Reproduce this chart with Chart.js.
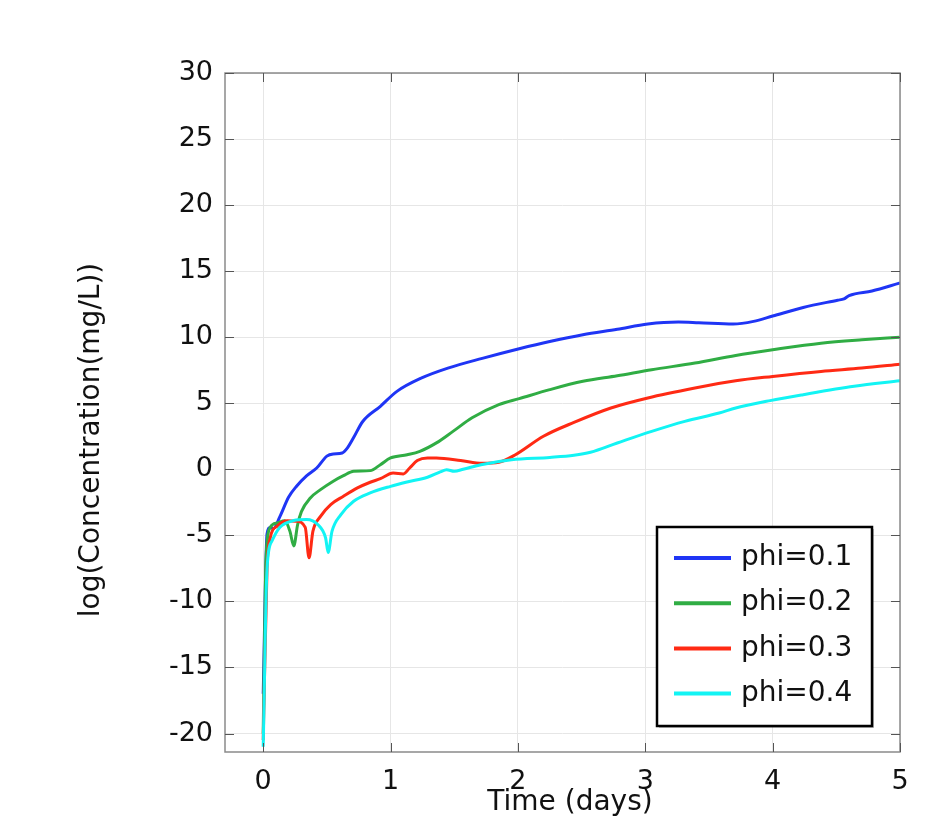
<!DOCTYPE html>
<html>
<head>
<meta charset="utf-8">
<script src="https://cdn.jsdelivr.net/npm/chart.js@4/dist/chart.umd.min.js"></script>
<style>
  body { margin: 0; background: #fff; }
  #wrap { width: 934px; height: 819px; }
</style>
</head>
<body>
<div id="wrap"><canvas id="concChart" width="934" height="819"></canvas></div>
<script>
// Series values (time in days, log concentration)
const seriesLabels = ["phi=0.1", "phi=0.2", "phi=0.3", "phi=0.4"];
const seriesColors = ["#1f35f5", "#30ad44", "#ff2a14", "#12f4f4"];

const phi1Days = [0, 0.03, 0.055, 0.08, 0.13, 0.2, 0.26, 0.34, 0.42, 0.5, 0.55, 0.62, 0.66, 0.71, 0.78, 0.92, 1.05, 1.24, 1.45, 1.72, 2.01, 2.25, 2.51, 2.78, 3.02, 3.26, 3.42, 3.69, 3.85, 4.0, 4.24, 4.51, 4.56, 4.6, 4.78, 5.0];
const phi1Log = [-17, -4.9, -4.4, -4.5, -3.6, -2.1, -1.3, -0.5, 0.1, 1.0, 1.16, 1.23, 1.6, 2.4, 3.6, 4.77, 5.9, 6.9, 7.66, 8.4, 9.13, 9.68, 10.19, 10.6, 11.0, 11.15, 11.1, 11.0, 11.2, 11.6, 12.25, 12.8, 12.9, 13.15, 13.5, 14.1];

const phi2Days = [0, 0.02, 0.055, 0.11, 0.17, 0.21, 0.24, 0.27, 0.3, 0.37, 0.45, 0.55, 0.63, 0.71, 0.84, 0.92, 1.0, 1.13, 1.23, 1.36, 1.49, 1.64, 1.85, 2.01, 2.25, 2.51, 2.78, 3.05, 3.39, 3.71, 4.0, 4.38, 4.7, 5.0];
const phi2Log = [-20, -7.2, -4.4, -4.06, -3.9, -4.7, -5.8, -4.2, -3.2, -2.17, -1.54, -0.9, -0.48, -0.15, -0.1, 0.35, 0.86, 1.1, 1.36, 2.0, 2.87, 3.9, 4.9, 5.35, 6.03, 6.66, 7.08, 7.54, 8.04, 8.62, 9.05, 9.55, 9.81, 10.0];

const phi3Days = [0, 0.03, 0.055, 0.11, 0.19, 0.26, 0.33, 0.36, 0.39, 0.45, 0.53, 0.63, 0.74, 0.84, 0.92, 1.02, 1.1, 1.15, 1.21, 1.29, 1.36, 1.55, 1.72, 1.85, 1.98, 2.2, 2.44, 2.73, 3.02, 3.39, 3.71, 4.0, 4.38, 4.7, 5.0];
const phi3Log = [-20.5, -7.5, -5.2, -4.3, -3.9, -3.93, -4.4, -6.7, -4.7, -3.56, -2.67, -2.04, -1.41, -0.98, -0.71, -0.28, -0.35, 0.1, 0.66, 0.86, 0.85, 0.66, 0.45, 0.53, 1.1, 2.5, 3.55, 4.64, 5.4, 6.15, 6.7, 7.03, 7.41, 7.66, 7.95];

const phi4Days = [0, 0.03, 0.07, 0.13, 0.24, 0.34, 0.43, 0.49, 0.51, 0.54, 0.61, 0.71, 0.84, 1.0, 1.13, 1.29, 1.39, 1.44, 1.5, 1.57, 1.71, 1.95, 2.25, 2.44, 2.57, 2.78, 3.05, 3.31, 3.58, 3.71, 3.98, 4.24, 4.64, 5.0];
const phi4Log = [-21, -7.5, -5.4, -4.4, -3.88, -3.8, -4.2, -5.2, -6.3, -4.7, -3.43, -2.42, -1.79, -1.29, -0.96, -0.6, -0.2, -0.03, -0.15, 0.0, 0.35, 0.73, 0.9, 1.06, 1.29, 1.99, 2.87, 3.63, 4.26, 4.64, 5.2, 5.65, 6.28, 6.7];

const xTicks = [0, 1, 2, 3, 4, 5];
const yTicks = [-20, -15, -10, -5, 0, 5, 10, 15, 20, 25, 30];

const allDays = [phi1Days, phi2Days, phi3Days, phi4Days];
const allLog = [phi1Log, phi2Log, phi3Log, phi4Log];

const FONT = "'DejaVu Sans', sans-serif";

// Inner tick marks on all four sides, the frame and the axis titles
const frameTicks = {
  id: "frameTicks",
  afterDatasetsDraw(chart) {
    const { ctx, chartArea: a, scales } = chart;
    ctx.save();
    ctx.strokeStyle = "#8a8a8a";
    ctx.lineWidth = 1.5;
    ctx.strokeRect(a.left, a.top, a.right - a.left, a.bottom - a.top);
    ctx.strokeStyle = "#555";
    ctx.lineWidth = 1;
    ctx.beginPath();
    xTicks.forEach((v) => {
      const px = Math.round(scales.x.getPixelForValue(v)) + 0.5;
      ctx.moveTo(px, a.bottom); ctx.lineTo(px, a.bottom - 9);
      ctx.moveTo(px, a.top); ctx.lineTo(px, a.top + 9);
    });
    yTicks.forEach((v) => {
      const py = Math.round(scales.y.getPixelForValue(v)) + 0.5;
      ctx.moveTo(a.left, py); ctx.lineTo(a.left + 9, py);
      ctx.moveTo(a.right, py); ctx.lineTo(a.right - 9, py);
    });
    ctx.stroke();

    ctx.fillStyle = "#111";
    ctx.font = "28px " + FONT;
    ctx.textAlign = "center";
    ctx.textBaseline = "middle";
    ctx.fillText("Time (days)", 570, 803);
    ctx.translate(92, 440);
    ctx.rotate(-Math.PI / 2);
    ctx.fillText("log(Concentration(mg/L))", 0, 0);
    ctx.restore();
  },
};

// Boxed legend in the lower right of the plot
const boxLegend = {
  id: "boxLegend",
  afterDraw(chart) {
    const { ctx } = chart;
    const bx = 657, by = 527, bw = 215, bh = 199;
    ctx.save();
    ctx.fillStyle = "rgba(0,0,0,0.25)";
    ctx.fillRect(bx + 2, by + 2, bw, bh);
    ctx.fillStyle = "#fff";
    ctx.fillRect(bx, by, bw, bh);
    ctx.strokeStyle = "#000";
    ctx.lineWidth = 2.5;
    ctx.strokeRect(bx, by, bw, bh);
    ctx.font = "28px " + FONT;
    ctx.textBaseline = "middle";
    ctx.fillStyle = "#111";
    seriesLabels.forEach((lab, i) => {
      const y = 558 + i * 45.2;
      ctx.strokeStyle = seriesColors[i];
      ctx.lineWidth = 4;
      ctx.beginPath();
      ctx.moveTo(674, y);
      ctx.lineTo(731, y);
      ctx.stroke();
      ctx.fillText(lab, 741, y);
    });
    ctx.restore();
  },
};

const ctxConc = document.getElementById("concChart").getContext("2d");
new Chart(ctxConc, {
  type: "line",
  data: {
    datasets: seriesLabels.map((lab, i) => ({
      label: lab,
      data: allDays[i].map((d, k) => ({ x: d, y: allLog[i][k] })),
      borderColor: seriesColors[i],
      borderWidth: 3,
      pointRadius: 0,
      fill: false,
      cubicInterpolationMode: "monotone",
      order: 4 - i,
    })),
  },
  options: {
    responsive: false,
    animation: false,
    layout: { padding: { left: 75, top: 73, right: 34, bottom: 0 } },
    plugins: { legend: { display: false }, tooltip: { enabled: false } },
    scales: {
      x: {
        type: "linear",
        min: -0.3,
        max: 5,
        afterFit: (s) => { s.height = 67; },
        afterBuildTicks: (s) => { s.ticks = xTicks.map((v) => ({ value: v })); },
        grid: { color: "#e6e6e6", drawTicks: false },
        border: { display: false },
        ticks: { font: { family: FONT, size: 27 }, color: "#111", padding: 14, maxRotation: 0 },
      },
      y: {
        min: -21.4,
        max: 30,
        afterFit: (s) => { s.width = 150; },
        afterBuildTicks: (s) => { s.ticks = yTicks.map((v) => ({ value: v })); },
        grid: { color: "#e6e6e6", drawTicks: false },
        border: { display: false },
        ticks: { font: { family: FONT, size: 27 }, color: "#111", padding: 12 },
      },
    },
  },
  plugins: [frameTicks, boxLegend],
});
</script>
</body>
</html>
